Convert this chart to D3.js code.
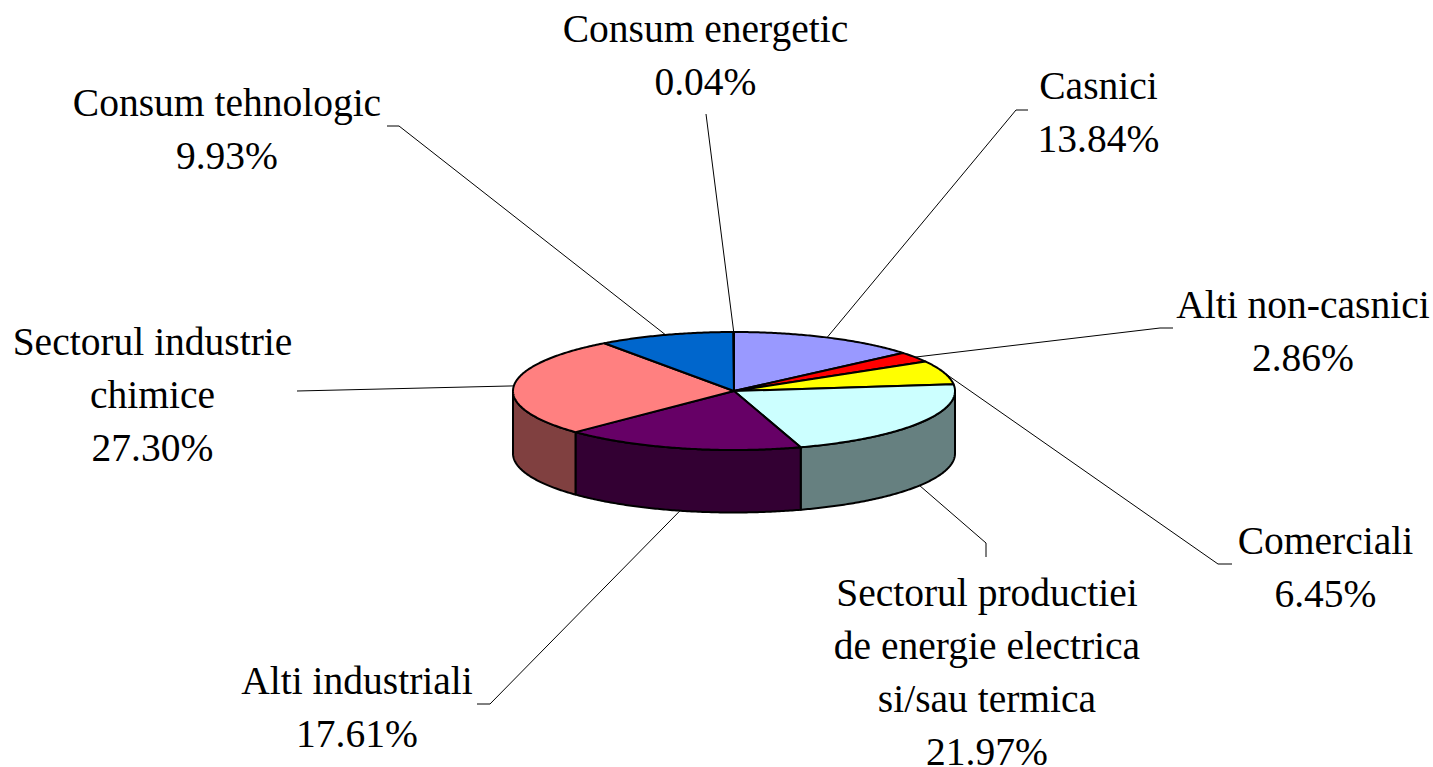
<!DOCTYPE html>
<html>
<head>
<meta charset="utf-8">
<script src="https://cdn.jsdelivr.net/npm/d3@7"></script>
<style>
    html, body { margin: 0; padding: 0; background: #fff; }
    svg { display: block; }
    text { font-family: "Liberation Serif", serif; font-size: 39.5px; fill: #000; text-anchor: middle; }
</style>
</head>
<body>
<div id="chart"></div>
<script>
const categories = [
    ["Casnici"],
    ["Alti non-casnici"],
    ["Comerciali"],
    ["Sectorul productiei", "de energie electrica", "si/sau termica"],
    ["Alti industriali"],
    ["Sectorul industrie", "chimice"],
    ["Consum tehnologic"],
    ["Consum energetic"]
];
const shares = [13.84, 2.86, 6.45, 21.97, 17.61, 27.30, 9.93, 0.04];
const sliceColors = ["#9999ff", "#ff0000", "#ffff00", "#ccffff", "#660066", "#ff8080", "#0066cc", "#ccccff"];

/* label block: centre x, first baseline */
const labelPos = [
    [1098.5, 99], [1303, 318], [1325.5, 554], [987, 606],
    [357, 694], [152.5, 355], [227, 116], [705.5, 42]
];
/* leader line, from the label end to the elbow; the rim end is computed */
const leaderPos = [
    [[1028, 110], [1016, 110]],
    [[1173, 328], [1160, 328]],
    [[1232, 564], [1218, 564]],
    [[986, 557], [986, 543]],
    [[477, 704], [490, 704]],
    [[297, 391], [297, 391]],
    [[387, 126], [399, 126]],
    [[706, 114], [706, 114]]
];

const WIDTH = 1433, HEIGHT = 767, LINE_STEP = 53;
const CX = 734, CY = 391, RX = 221, RY = 59, DEPTH = 62.5;

const svg = d3.select("#chart").append("svg")
    .attr("width", WIDTH)
    .attr("height", HEIGHT);

/* Scale: unit circle to the flattened disc */
const xScale = d3.scaleLinear().domain([-1, 1]).range([CX - RX, CX + RX]);
const yScale = d3.scaleLinear().domain([-1, 1]).range([CY - RY, CY + RY]);
const rimX = a => xScale(Math.sin(a));
const rimY = a => yScale(-Math.cos(a));

const arcs = d3.pie().sort(null)(shares);
const anglesBetween = (a0, a1) => d3.range(a0, a1, 0.01).concat([a1]);

/* Add the side wall, only the part facing the viewer */
const side = d3.area()
    .x(rimX)
    .y0(rimY)
    .y1(a => rimY(a) + DEPTH);

svg.append("g").selectAll("path")
    .data(arcs.filter(d => d.endAngle > Math.PI / 2 && d.startAngle < 3 * Math.PI / 2))
    .enter().append("path")
    .attr("d", d => side(anglesBetween(
        Math.max(d.startAngle, Math.PI / 2),
        Math.min(d.endAngle, 3 * Math.PI / 2))))
    .attr("fill", d => {
        const c = d3.rgb(sliceColors[d.index]);
        return d3.rgb(c.r / 2, c.g / 2, c.b / 2);
    })
    .attr("stroke", "#000")
    .attr("stroke-width", 2)
    .attr("stroke-linejoin", "round");

/* Add the top slices */
const rim = d3.line().x(rimX).y(rimY);

svg.append("g").selectAll("path")
    .data(arcs)
    .enter().append("path")
    .attr("d", d => rim(anglesBetween(d.startAngle, d.endAngle)) + `L${xScale(0)},${yScale(0)}Z`)
    .attr("fill", d => sliceColors[d.index])
    .attr("stroke", "#000")
    .attr("stroke-width", 2)
    .attr("stroke-linejoin", "round");

/* Add leader lines */
const rimAnchor = d => {
    const mid = (d.startAngle + d.endAngle) / 2;
    return [rimX(mid), rimY(mid) + (Math.cos(mid) < 0 ? DEPTH : 0)];
};

svg.append("g").selectAll("path")
    .data(arcs)
    .enter().append("path")
    .attr("d", d => d3.line()(leaderPos[d.index].concat([rimAnchor(d)])))
    .attr("fill", "none")
    .attr("stroke", "#000")
    .attr("stroke-width", 1);

/* Add labels */
const labels = svg.append("g").selectAll("text")
    .data(arcs)
    .enter().append("text")
    .attr("x", d => labelPos[d.index][0])
    .attr("y", d => labelPos[d.index][1]);

labels.selectAll("tspan")
    .data(d => categories[d.index].concat([d3.format(".2f")(d.value) + "%"])
        .map((line, i) => ({ line, i, x: labelPos[d.index][0] })))
    .enter().append("tspan")
    .attr("x", d => d.x)
    .attr("dy", d => d.i === 0 ? 0 : LINE_STEP)
    .text(d => d.line);
</script>
</body>
</html>
